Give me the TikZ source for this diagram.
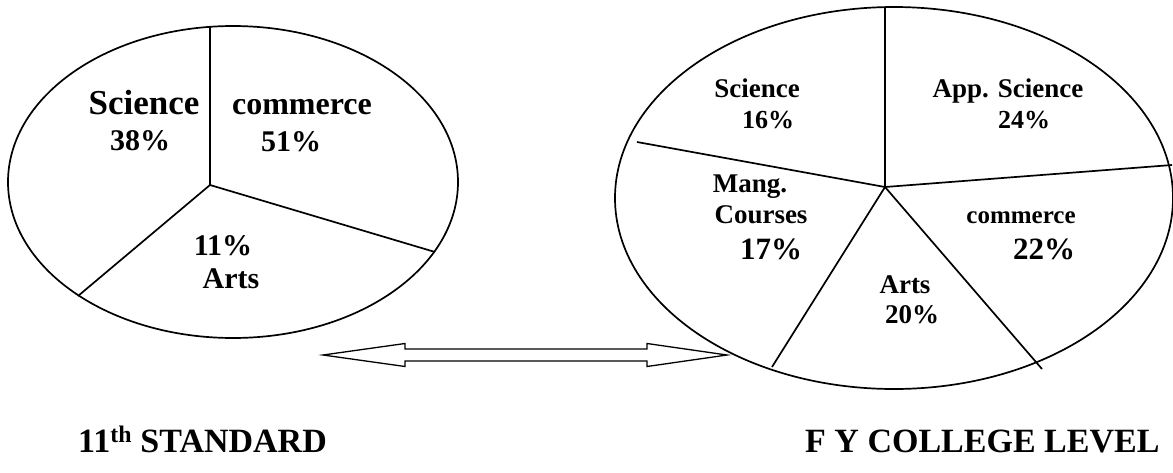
\documentclass[tikz,border=0pt]{standalone}
\usepackage{fontspec}
\setmainfont{Liberation Serif}
\begin{document}
\begin{tikzpicture}[x=1pt,y=-1pt,
  pieline/.style={line width=1.7pt, black},
  lbl/.style={inner sep=0pt, anchor=base, align=center, font=\bfseries},
  fs/.style={font=\fontsize{#1}{#1}\selectfont\bfseries},
  title/.style={inner sep=0pt, anchor=base west, font=\fontsize{34}{34}\selectfont\bfseries}]
\useasboundingbox (0,0) rectangle (1173,472);

% ---- left pie: 11th standard ----
\coordinate (lc) at (210,185);
\coordinate (ltop) at (210,26.8);
\coordinate (lleft) at (78,296);
\coordinate (lright) at (435,252);
\draw[pieline] (233,182) ellipse [x radius=225, y radius=156];
\draw[pieline] (lc) -- (ltop);
\draw[pieline] (lc) -- (lleft);
\draw[pieline] (lc) -- (lright);

\node[lbl, fs=35] (lsci) at (144,114) {Science};
\node[lbl, fs=30] (lscip) at (140,150) {38\%};
\node[lbl, fs=32] (lcom) at (302,114) {commerce};
\node[lbl, fs=30] (lcomp) at (291,151) {51\%};
\node[lbl, fs=30] (lartp) at (223,255) {11\%};
\node[lbl, fs=30] (lart) at (231,288) {Arts};

% ---- right pie: F Y college level ----
\coordinate (rc) at (885,187);
\coordinate (rtop) at (885,7.2);
\coordinate (rleft) at (637,142);
\coordinate (rright) at (1172,165);
\coordinate (rbl) at (772,367);
\coordinate (rbr) at (1042,369);
\draw[pieline] (894,198) ellipse [x radius=279, y radius=191];
\draw[pieline] (rc) -- (rtop);
\draw[pieline] (rc) -- (rleft);
\draw[pieline] (rc) -- (rright);
\draw[pieline] (rc) -- (rbl);
\draw[pieline] (rc) -- (rbr);

\node[lbl, fs=27] (rsci) at (757,97) {Science};
\node[lbl, fs=26] (rscip) at (768,128) {16\%};
\node[lbl, fs=27] (rapp) at (1008,97) {App. Science};
\node[lbl, fs=26] (rappp) at (1024,128) {24\%};
\node[lbl, fs=27] (rmang) at (750,192) {Mang.};
\node[lbl, fs=27] (rcour) at (761,223) {Courses};
\node[lbl, fs=31] (rmangp) at (771,259) {17\%};
\node[lbl, fs=25] (rcom) at (1021,223) {commerce};
\node[lbl, fs=31] (rcomp) at (1044,259) {22\%};
\node[lbl, fs=27] (rart) at (905,293) {Arts};
\node[lbl, fs=27] (rartp) at (912,323) {20\%};

% ---- double-headed outline arrow between the pies ----
\draw[line width=1.3pt, line join=miter]
  (323,355) -- (405,343.5) -- (405,349) -- (647,349) -- (647,343.5)
  -- (727,355) -- (647,366.5) -- (647,361) -- (405,361) -- (405,366.5) -- cycle;

% ---- captions ----
\node[title] (tleft) at (78,452) {11\textsuperscript{th} STANDARD};
\node[title] (tright) at (805,452) {F Y COLLEGE LEVEL};
\end{tikzpicture}
\end{document}
